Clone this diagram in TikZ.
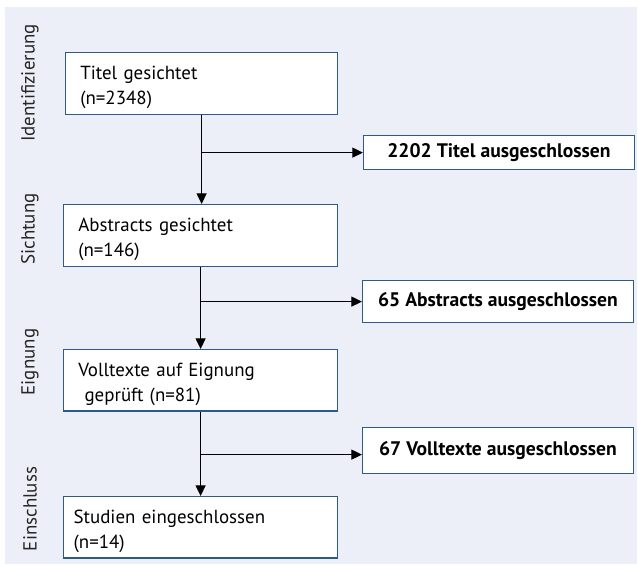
\documentclass[tikz,border=0pt]{standalone}
\usepackage{fontspec}
\setmainfont{PT Sans}
\usetikzlibrary{arrows.meta,positioning}

\definecolor{panelbg}{HTML}{ECEFF7}
\definecolor{boxblue}{HTML}{2E5A87}

\begin{document}
\begin{tikzpicture}[
            x=0.75pt, y=-0.75pt,
            font=\fontsize{14.2}{19}\selectfont,
            stage/.style={
                draw=boxblue,
                fill=white,
                line width=0.9pt,
                anchor=north west,
                align=left,
                inner xsep=11pt,
                text width=182pt,
                execute at begin node={\rule{0pt}{16pt}}
            },
            excl/.style={
                draw=boxblue,
                fill=white,
                line width=0.9pt,
                anchor=north west,
                align=center,
                font=\fontsize{14.7}{19}\selectfont\bfseries,
                minimum width=203pt
            },
            phase/.style={rotate=90, text=black!85},
            flow/.style={-{Triangle[length=8pt,width=7.5pt]}, line width=0.9pt}
        ]

            \useasboundingbox (0,0) rectangle (638,565);
            \fill[panelbg] (5,7) rectangle (637,564);

            \node[phase] (identif) at (30,83) {Identifizierung};
            \node[phase] (sicht) at (30,229) {Sichtung};
            \node[phase] (eign) at (30,362) {Eignung};
            \node[phase] (einschl) at (30,509) {Einschluss};

            \node[stage, minimum height=46.5pt] (titel) at (65,52)
                {Titel gesichtet\\(n=2348)};
            \node[stage, minimum height=46.5pt, text width=183.5pt] (abstr) at (63,204)
                {Abstracts gesichtet\\(n=146)};
            \node[stage, minimum height=46pt, text width=183.5pt] (volltxt) at (63,349)
                {Volltexte auf Eignung\\\ geprüft (n=81)};
            \node[stage, minimum height=46pt, inner xsep=7.5pt, text width=190.5pt] (studien) at (63,496)
                {Studien eingeschlossen\\(n=14)};

            \node[excl, minimum height=25.5pt] (extitel) at (363,135)
                {2202 Titel ausgeschlossen};
            \node[excl, minimum height=31.5pt] (exabstr) at (362,280)
                {65 Abstracts ausgeschlossen};
            \node[excl, minimum height=34.5pt] (exvoll) at (362,427)
                {67 Volltexte ausgeschlossen};

            \coordinate (split1) at (titel.south |- extitel.west);
            \coordinate (split2) at (abstr.south |- exabstr.west);
            \coordinate (split3) at ([yshift=-3pt]volltxt.south |- exvoll.west);

            % main flow
            \draw[flow] (titel.south) -- (titel.south |- abstr.north);
            \draw[flow] (abstr.south) -- (abstr.south |- volltxt.north);
            \draw[flow] (volltxt.south) -- (volltxt.south |- studien.north);

            % exclusions
            \draw[flow] (split1) -- (extitel.west);
            \draw[flow] (split2) -- (exabstr.west);
            \draw[flow] (split3) -- (split3 -| exvoll.west);

        \end{tikzpicture}
\end{document}
